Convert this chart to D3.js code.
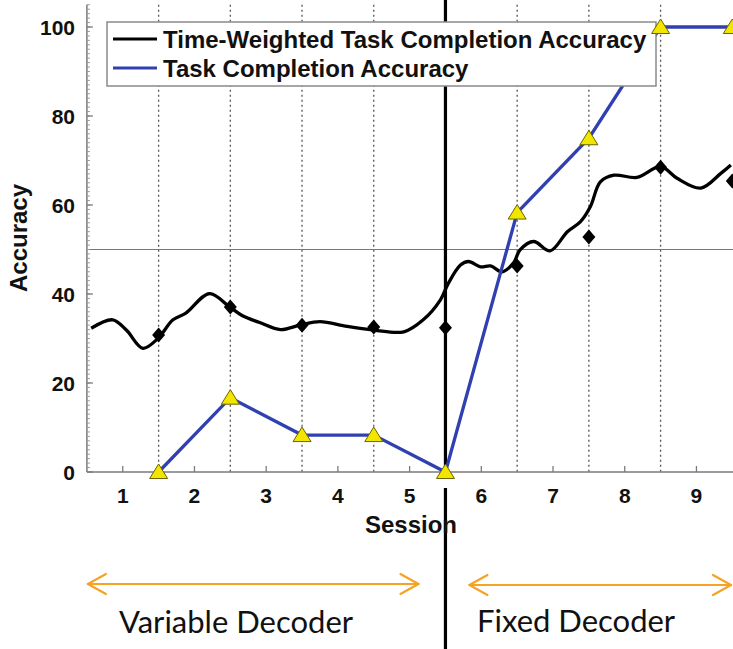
<!DOCTYPE html>
<html>
<head>
<meta charset="utf-8">
<script src="https://cdn.jsdelivr.net/npm/d3@7"></script>
<style>
  html, body { margin: 0; padding: 0; background: #fff; }
  svg { display: block; }
</style>
</head>
<body>
<svg id="chart" width="733" height="649"></svg>
<script>
// Session tick labels and y ticks
const sessions = [1, 2, 3, 4, 5, 6, 7, 8, 9];
const yTicks = [0, 20, 40, 60, 80, 100];

// Per-session markers sit on the session boundaries
const boundarySessions = [1.5, 2.5, 3.5, 4.5, 5.5, 6.5, 7.5, 8.5, 9.5];
const taskAccuracy = [0, 16.7, 8.3, 8.3, 0, 58.3, 75, 100, 100];
const weightedAccuracy = [30.8, 37.1, 33.0, 32.6, 32.4, 46.3, 52.8, 68.5, 65.4];

// Continuous time-weighted accuracy trace
const traceSession = [0.56, 0.86, 1.05, 1.28, 1.49, 1.70, 1.88, 2.21, 2.49, 2.67, 2.91, 3.20,
  3.47, 3.75, 4.13, 4.50, 4.92, 5.19, 5.43, 5.54, 5.71, 5.82, 5.99, 6.13, 6.29, 6.45,
  6.54, 6.73, 6.96, 7.20, 7.38, 7.52, 7.66, 7.85, 8.17, 8.50, 8.73, 9.06, 9.34, 9.48];
const traceAccuracy = [32.3, 34.2, 31.9, 27.8, 30.0, 34.2, 35.7, 40.1, 37.1, 35.1, 33.6, 32.0,
  33.0, 33.8, 32.7, 31.9, 31.5, 34.2, 38.7, 42.4, 46.5, 47.3, 46.1, 46.3, 45.0, 47.0,
  49.9, 51.8, 49.7, 54.0, 56.2, 59.6, 65.2, 66.7, 66.2, 68.6, 66.0, 63.8, 67.1, 69.0];

const legendLabels = ["Time-Weighted Task Completion Accuracy", "Task Completion Accuracy"];
const phaseLabels = ["Variable Decoder", "Fixed Decoder"];
const decoderSwitch = 5.5;
const thresholdLine = 50;

const svg = d3.select("#chart");
const boldFont = "'Liberation Sans', Arial, Helvetica, sans-serif";

const x = d3.scaleLinear().domain([0.5, 9.5]).range([86.9, 732.3]);
const y = d3.scaleLinear().domain([0, 105]).range([472, 4.75]);

const axisColor = "#7a7a7a";
const plotLeft = x(0.5), plotRight = 733, plotBottom = y(0), plotTop = y(105);

// Dotted boundary lines between sessions
svg.append("g").selectAll("line")
  .data(boundarySessions.filter(s => s !== decoderSwitch && s < 9.5))
  .join("line")
  .attr("x1", d => x(d)).attr("x2", d => x(d))
  .attr("y1", plotTop).attr("y2", plotBottom)
  .attr("stroke", "#555").attr("stroke-width", 1.3)
  .attr("stroke-dasharray", "2,3");

// 50% reference line
svg.append("line")
  .attr("x1", plotLeft).attr("x2", plotRight)
  .attr("y1", y(thresholdLine)).attr("y2", y(thresholdLine))
  .attr("stroke", "#777").attr("stroke-width", 1.2);

// Decoder switch marker
svg.append("line")
  .attr("x1", x(decoderSwitch)).attr("x2", x(decoderSwitch))
  .attr("y1", 0).attr("y2", plotBottom)
  .attr("stroke", "#000").attr("stroke-width", 3.2);
svg.append("line")
  .attr("x1", x(decoderSwitch)).attr("x2", x(decoderSwitch))
  .attr("y1", 488).attr("y2", 649)
  .attr("stroke", "#000").attr("stroke-width", 3.2);

// Axes
const yAxis = svg.append("g");
yAxis.append("line").attr("x1", plotLeft).attr("x2", plotLeft).attr("y1", plotTop).attr("y2", plotBottom)
  .attr("stroke", axisColor).attr("stroke-width", 1.5);
yAxis.selectAll("line.minor").data(d3.range(1, 106)).join("line").attr("class", "minor")
  .attr("x1", plotLeft).attr("x2", plotLeft + 3)
  .attr("y1", d => y(d)).attr("y2", d => y(d))
  .attr("stroke", "#999").attr("stroke-width", 1);
yAxis.selectAll("line.major").data(yTicks).join("line").attr("class", "major")
  .attr("x1", plotLeft).attr("x2", plotLeft + 6)
  .attr("y1", d => y(d)).attr("y2", d => y(d))
  .attr("stroke", axisColor).attr("stroke-width", 1.3);
yAxis.selectAll("text").data(yTicks).join("text")
  .attr("x", 75).attr("y", d => y(d)).attr("dy", "0.36em")
  .attr("text-anchor", "end")
  .attr("font-family", boldFont).attr("font-weight", "bold").attr("font-size", 21)
  .attr("fill", "#111").text(d => d);

const xAxis = svg.append("g");
xAxis.append("line").attr("x1", plotLeft).attr("x2", plotRight).attr("y1", plotBottom).attr("y2", plotBottom)
  .attr("stroke", axisColor).attr("stroke-width", 1.5);
xAxis.selectAll("line.tick").data(sessions).join("line").attr("class", "tick")
  .attr("x1", d => x(d)).attr("x2", d => x(d))
  .attr("y1", plotBottom).attr("y2", plotBottom - 6)
  .attr("stroke", axisColor).attr("stroke-width", 1.3);
xAxis.selectAll("text").data(sessions).join("text")
  .attr("x", d => x(d)).attr("y", 503)
  .attr("text-anchor", "middle")
  .attr("font-family", boldFont).attr("font-weight", "bold").attr("font-size", 21)
  .attr("fill", "#111").text(d => d);

svg.append("text")
  .attr("x", 411).attr("y", 533).attr("text-anchor", "middle")
  .attr("font-family", boldFont).attr("font-weight", "bold").attr("font-size", 24)
  .attr("fill", "#111").text("Session");
svg.append("text")
  .attr("transform", "translate(27,238) rotate(-90)").attr("text-anchor", "middle")
  .attr("font-family", boldFont).attr("font-weight", "bold").attr("font-size", 24)
  .attr("fill", "#111").text("Accuracy");

// Series lines
const blue = "#3040b0";
const trace = traceSession.map((s, i) => [s, traceAccuracy[i]]);
svg.append("path")
  .datum(trace)
  .attr("d", d3.line().x(d => x(d[0])).y(d => y(d[1])).curve(d3.curveCatmullRom.alpha(0.5)))
  .attr("fill", "none").attr("stroke", "#000").attr("stroke-width", 3.3);

const task = boundarySessions.map((s, i) => [s, taskAccuracy[i]]);
svg.append("path")
  .datum(task)
  .attr("d", d3.line().x(d => x(d[0])).y(d => y(d[1])))
  .attr("fill", "none").attr("stroke", blue).attr("stroke-width", 3.3);

// Legend
const lg = svg.append("g");
lg.append("rect").attr("x", 107).attr("y", 22).attr("width", 549).attr("height", 64)
  .attr("fill", "#fff").attr("stroke", "#8a8a8a").attr("stroke-width", 1.5);
const legendColors = ["#000", blue];
legendLabels.forEach((label, i) => {
  const ly = 39 + i * 29;
  lg.append("line").attr("x1", 113).attr("x2", 157).attr("y1", ly).attr("y2", ly)
    .attr("stroke", legendColors[i]).attr("stroke-width", 3);
  lg.append("text").attr("x", 163).attr("y", ly).attr("dy", "0.36em")
    .attr("font-family", boldFont).attr("font-weight", "bold").attr("font-size", 24)
    .attr("fill", "#111").text(label);
});

// Markers
svg.append("g").selectAll("path")
  .data(boundarySessions.map((s, i) => [s, weightedAccuracy[i]]))
  .join("path")
  .attr("d", "M0,-7.5 L6.5,0 L0,7.5 L-6.5,0 Z")
  .attr("transform", d => `translate(${x(d[0])},${y(d[1])})`)
  .attr("fill", "#000");

svg.append("g").selectAll("path")
  .data(task)
  .join("path")
  .attr("d", "M0,-8 L9,6.5 L-9,6.5 Z")
  .attr("transform", d => `translate(${x(d[0])},${y(d[1])})`)
  .attr("fill", "#f2e600").attr("stroke", "#6b6400").attr("stroke-width", 1);

// Decoder phase annotations
const orange = "#f5a325";
function doubleArrow(x1, x2, yy) {
  const g = svg.append("g").attr("fill", "none").attr("stroke", orange)
    .attr("stroke-width", 2.2).attr("stroke-linecap", "round").attr("stroke-linejoin", "round");
  g.append("line").attr("x1", x1).attr("x2", x2).attr("y1", yy).attr("y2", yy);
  g.append("path").attr("d", `M${x1 + 18},${yy - 10} L${x1},${yy} L${x1 + 18},${yy + 10}`);
  g.append("path").attr("d", `M${x2 - 18},${yy - 10} L${x2},${yy} L${x2 - 18},${yy + 10}`);
}
doubleArrow(x(0.5) + 1, x(5.5) - 27, 584);
doubleArrow(x(5.5) + 24, 731, 585);

const phaseFont = "Lato, 'Open Sans', sans-serif";
svg.append("text").attr("x", 119).attr("y", 633)
  .attr("font-family", phaseFont).attr("font-size", 31).attr("fill", "#111")
  .text(phaseLabels[0]);
svg.append("text").attr("x", 477).attr("y", 632)
  .attr("font-family", phaseFont).attr("font-size", 31).attr("fill", "#111")
  .text(phaseLabels[1]);
</script>
</body>
</html>
